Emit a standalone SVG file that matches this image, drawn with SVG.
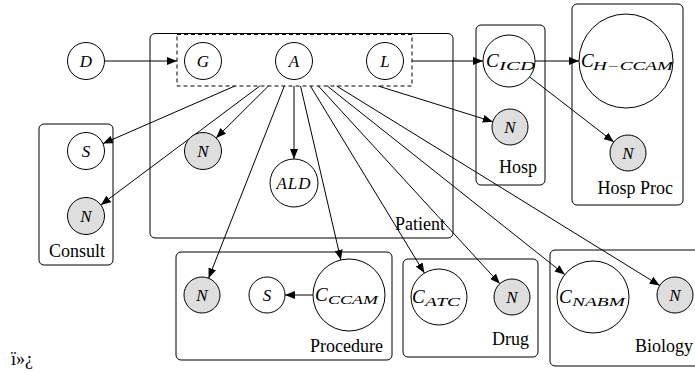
<svg xmlns="http://www.w3.org/2000/svg" width="695" height="374" viewBox="0 0 695 374">
<defs>
<marker id="arr" markerUnits="userSpaceOnUse" markerWidth="10" markerHeight="8" viewBox="0 0 10 8" refX="10" refY="4" orient="auto">
<path d="M0,0 L10,4 L0,8 z" fill="#000"/>
</marker>
<style>
.plate{fill:none;stroke:#000;stroke-width:1}
.dash{fill:none;stroke:#000;stroke-width:1;stroke-dasharray:4 3}
.n{fill:#fff;stroke:#000;stroke-width:1}
.obs{fill:#dedede;stroke:#000;stroke-width:1}
text{font-family:'Liberation Serif','Times New Roman',Times,'DejaVu Serif',serif;fill:#000}
.m{font-style:italic;font-size:17px;text-anchor:middle}
.mc{font-style:italic;font-size:19px}
.sub{font-size:12px}
.lbl{font-size:18px;text-anchor:end}
.e{fill:none;stroke:#000;stroke-width:1;marker-end:url(#arr)}
</style>
</defs>

<g id="plates">
<rect id="patient" class="plate" x="150" y="33.5" width="303" height="204.5" rx="5"/>
<rect id="consult" class="plate" x="39" y="124" width="74" height="141" rx="5"/>
<rect id="hosp" class="plate" x="476" y="25" width="69" height="160" rx="5"/>
<rect id="hospproc" class="plate" x="572" y="4" width="111" height="201" rx="5"/>
<rect id="procedure" class="plate" x="176" y="252" width="216" height="108" rx="5"/>
<rect id="drug" class="plate" x="403" y="259" width="135" height="98" rx="5"/>
<rect id="biology" class="plate" x="550" y="250" width="160" height="116" rx="5"/>
<rect id="demog" class="dash" x="177" y="34.5" width="235" height="51.5"/>
<text class="lbl" x="445" y="230">Patient</text>
<text class="lbl" x="105" y="257">Consult</text>
<text class="lbl" x="537" y="173">Hosp</text>
<text class="lbl" x="673" y="194">Hosp Proc</text>
<text class="lbl" x="383" y="352">Procedure</text>
<text class="lbl" x="529" y="345">Drug</text>
<text class="lbl" x="693" y="352">Biology</text>
</g>

<g id="connectors">
<line class="e" x1="104.5" y1="61" x2="177" y2="61"/>
<line class="e" x1="412" y1="61" x2="483" y2="61"/>
<line class="e" x1="535" y1="61" x2="579" y2="61"/>
<line class="e" x1="529.6" y1="76.9" x2="613.8" y2="142"/>
<line class="e" x1="313" y1="295" x2="285" y2="295"/>
<line class="e" x1="234.9" y1="86" x2="103" y2="143.6"/>
<line class="e" x1="259.8" y1="86" x2="100.8" y2="204.9"/>
<line class="e" x1="268.4" y1="86" x2="216.1" y2="138"/>
<line class="e" x1="294" y1="86" x2="294" y2="159"/>
<line class="e" x1="284.3" y1="86" x2="208.6" y2="278.2"/>
<line class="e" x1="300.5" y1="86" x2="340.9" y2="259.9"/>
<line class="e" x1="310.4" y1="86" x2="424.4" y2="273.1"/>
<line class="e" x1="318.4" y1="86" x2="499.8" y2="283.7"/>
<line class="e" x1="327.3" y1="86" x2="564.8" y2="274.6"/>
<line class="e" x1="336.6" y1="86" x2="659.7" y2="285.5"/>
<line class="e" x1="378.1" y1="86" x2="492.8" y2="121.7"/>
</g>

<g id="D"><circle class="n" cx="86" cy="61" r="18.5"/><text class="m" x="86" y="67">D</text></g>
<g id="G"><circle class="n" cx="203" cy="61" r="18.5"/><text class="m" x="203" y="67">G</text></g>
<g id="A"><circle class="n" cx="294" cy="61" r="18.5"/><text class="m" x="294" y="67">A</text></g>
<g id="L"><circle class="n" cx="385" cy="61" r="18.5"/><text class="m" x="385" y="67">L</text></g>
<g id="ALD"><circle class="n" cx="294" cy="183" r="24"/><text class="m" x="294" y="189" letter-spacing="1">ALD</text></g>
<g id="PatientN"><circle class="obs" cx="203" cy="151" r="18.5"/><text class="m" x="203" y="157">N</text></g>
<g id="ConsultS"><circle class="n" cx="86" cy="151" r="18.5"/><text class="m" x="86" y="157">S</text></g>
<g id="ConsultN"><circle class="obs" cx="86" cy="216" r="18.5"/><text class="m" x="86" y="222">N</text></g>
<g id="CICD"><circle class="n" cx="509" cy="61" r="26"/><text class="mc" x="486" y="67">C<tspan class="sub" x="499" y="70" textLength="36" lengthAdjust="spacingAndGlyphs">ICD</tspan></text></g>
<g id="HospN"><circle class="obs" cx="510" cy="127" r="18"/><text class="m" x="510" y="133">N</text></g>
<g id="CHCCAM"><circle class="n" cx="626" cy="61" r="47"/><text class="mc" x="581" y="67">C<tspan class="sub" x="593" y="70" textLength="80" lengthAdjust="spacingAndGlyphs">H−CCAM</tspan></text></g>
<g id="HospProcN"><circle class="obs" cx="628" cy="153" r="18"/><text class="m" x="628" y="159">N</text></g>
<g id="ProcN"><circle class="obs" cx="202" cy="295" r="18"/><text class="m" x="202" y="301">N</text></g>
<g id="ProcS"><circle class="n" cx="267" cy="295" r="18"/><text class="m" x="267" y="301">S</text></g>
<g id="CCCAM"><circle class="n" cx="349" cy="295" r="36"/><text class="mc" x="315" y="301">C<tspan class="sub" x="328" y="304" textLength="50" lengthAdjust="spacingAndGlyphs">CCAM</tspan></text></g>
<g id="CATC"><circle class="n" cx="439" cy="297" r="28"/><text class="mc" x="412" y="303">C<tspan class="sub" x="425" y="306" textLength="35" lengthAdjust="spacingAndGlyphs">ATC</tspan></text></g>
<g id="DrugN"><circle class="obs" cx="512" cy="297" r="18"/><text class="m" x="512" y="303">N</text></g>
<g id="CNABM"><circle class="n" cx="593" cy="297" r="36"/><text class="mc" x="559" y="303">C<tspan class="sub" x="572" y="306" textLength="53" lengthAdjust="spacingAndGlyphs">NABM</tspan></text></g>
<g id="BioN"><circle class="obs" cx="675" cy="295" r="18"/><text class="m" x="675" y="301">N</text></g>

<text x="11" y="365" font-size="18">ï»¿</text>
</svg>
